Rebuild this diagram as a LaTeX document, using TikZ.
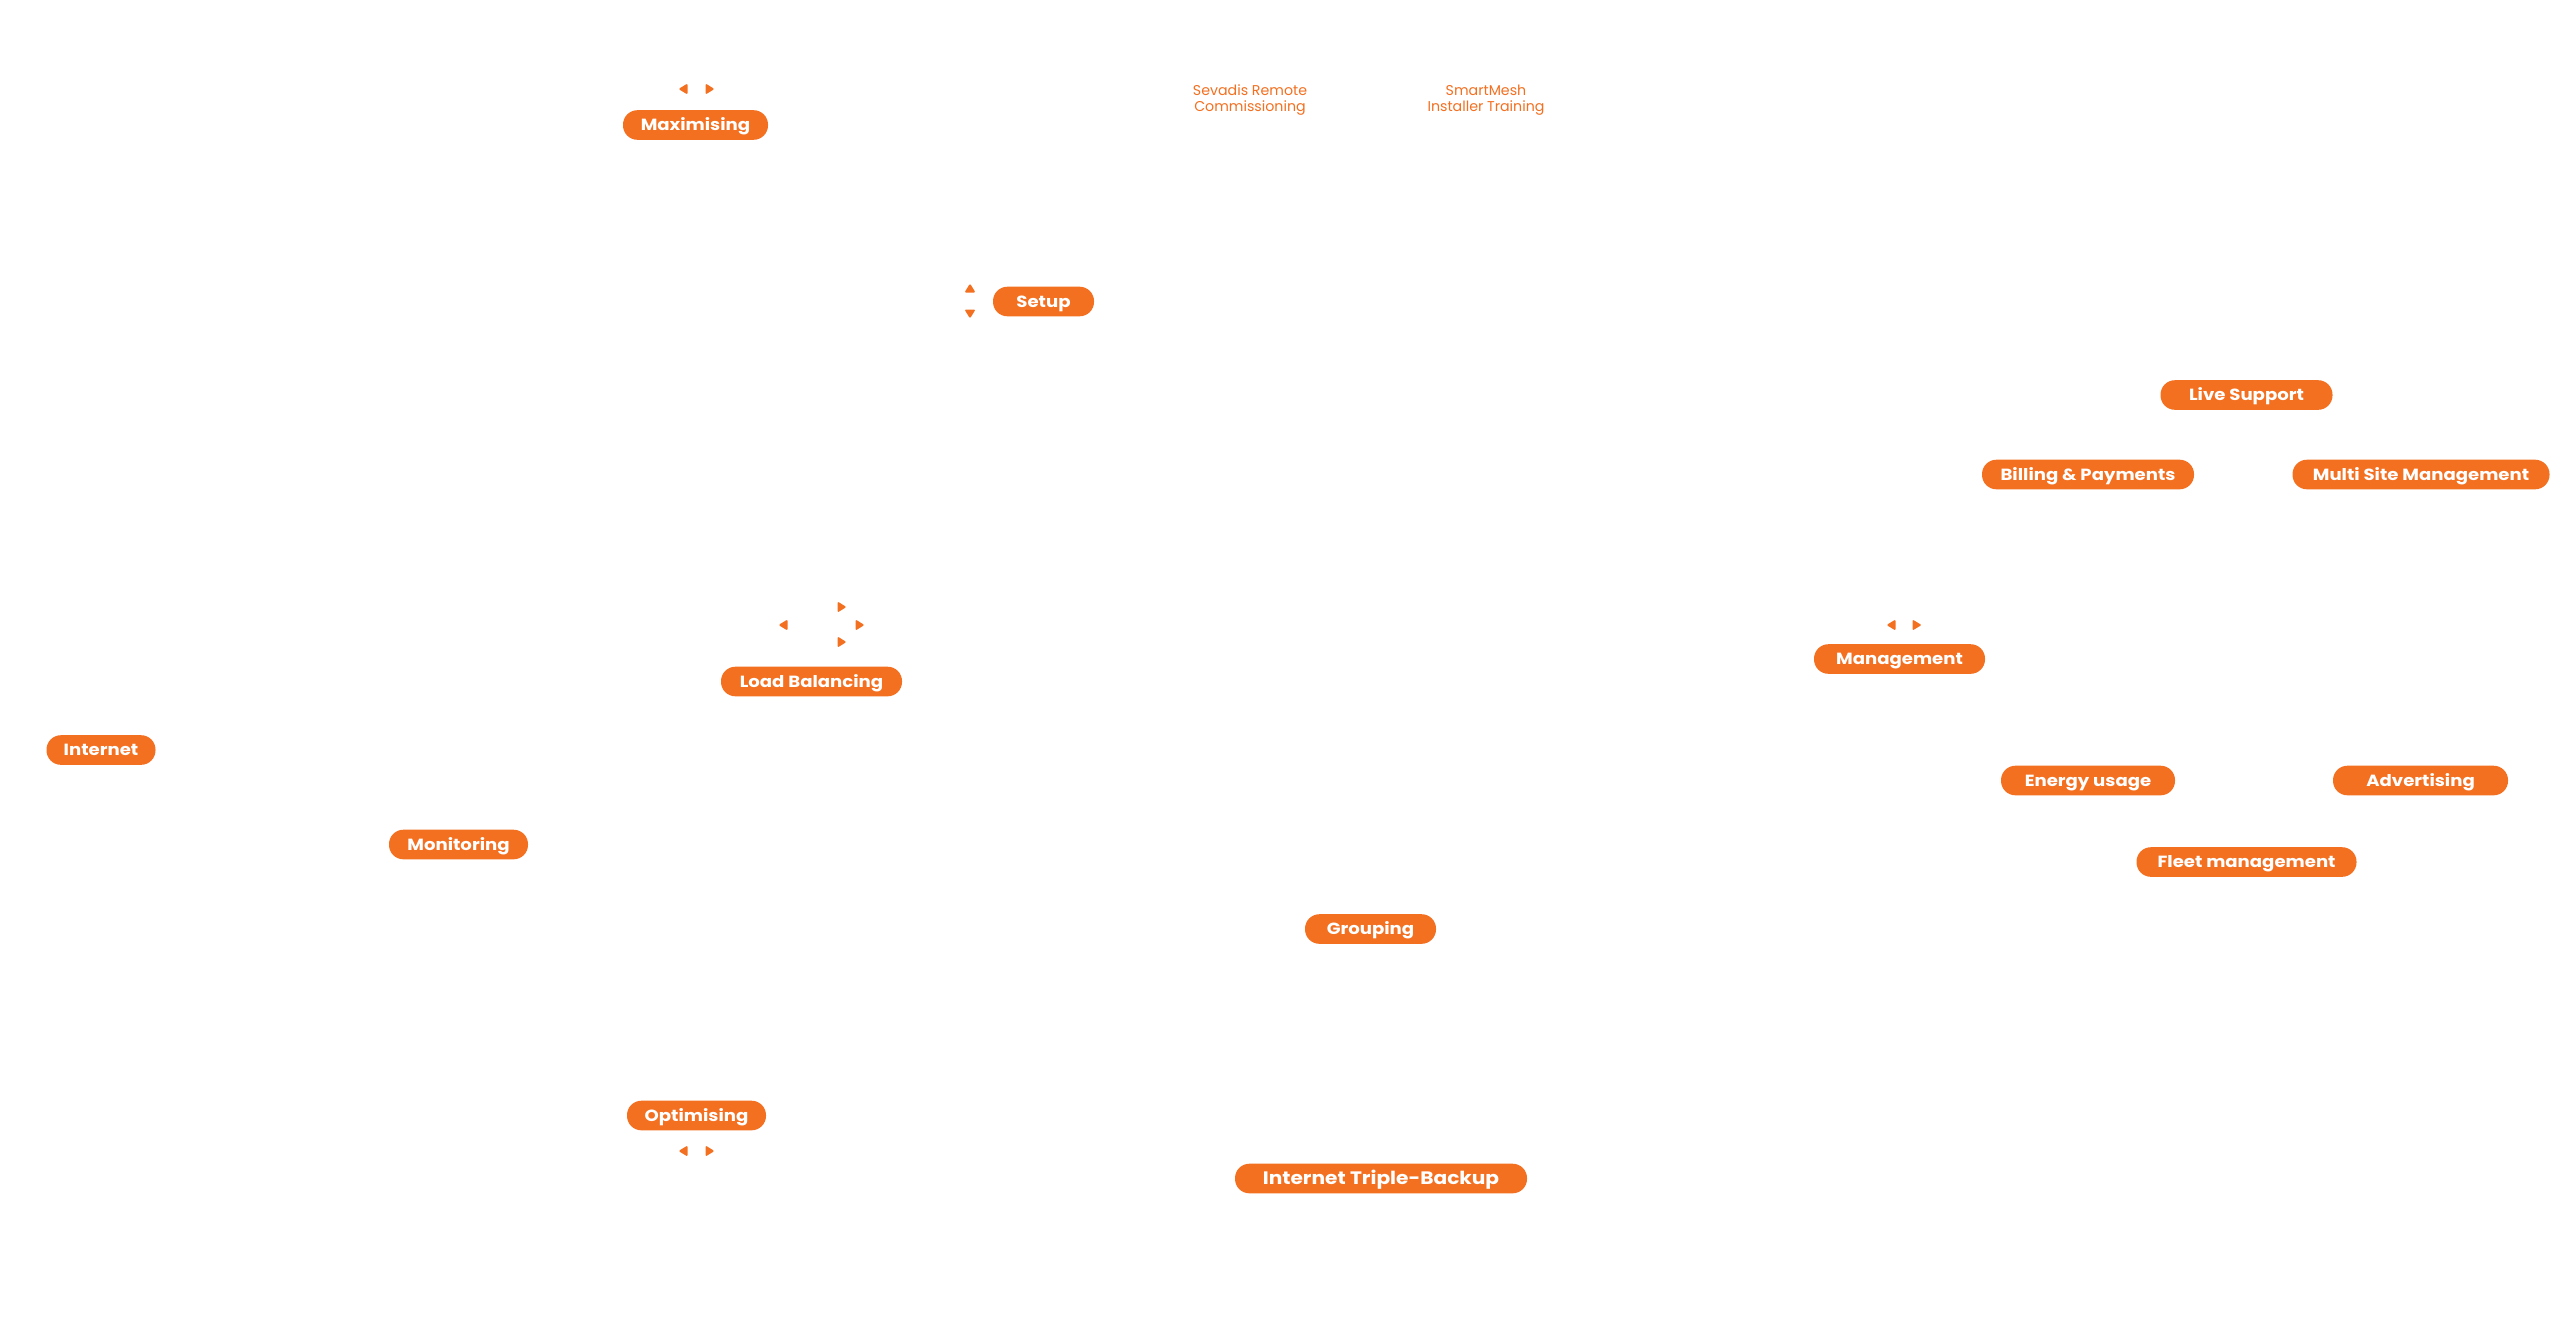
\documentclass[tikz,border=0pt]{standalone}
\usepackage{fontspec}
\setmainfont{Poppins}
\newfontfamily\pillfont[FakeStretch=1.12]{Poppins}
\usepackage{tikz}
\usetikzlibrary{arrows.meta, calc}
\definecolor{brandorange}{HTML}{F37021}
\tikzset{
  pill/.style={fill=brandorange, text=white, rounded corners=3.6mm, minimum height=7.4mm,
    inner sep=0pt, text height=8pt, text depth=0pt,
    font=\pillfont\bfseries\fontsize{11.5}{13}\selectfont},
  pillw/.style={minimum width=#1*0.25mm},
  smalltext/.style={text=brandorange, align=center, font=\fontsize{10.1}{11.4}\selectfont},
  arrowtip/.pic={\fill[brandorange, rounded corners=0.3mm] (-4.5,-5.5) -- (4.5,0) -- (-4.5,5.5) -- cycle;}
}

\begin{document}
\begin{tikzpicture}[x=0.25mm, y=-0.25mm]
        % 배경과 크기
        \useasboundingbox (0, 0) rectangle (2560, 1325);
        \fill[white] (0, 0) rectangle (2560, 1325);

        % 위쪽: 설치 관련
        \node[pill, pillw=145] (maximising) at (695.5, 125) {Maximising};
        \node[pill, pillw=101] (setup) at (1043.5, 301.5) {Setup};
        \node[smalltext] (sevadis) at (1250, 100) {Sevadis Remote\\Commissioning};
        \node[smalltext] (smartmesh) at (1486, 100) {SmartMesh\\Installer Training};

        % 왼쪽: 부하 분산과 모니터링
        \node[pill, pillw=181] (loadbal) at (811.5, 681.5) {Load Balancing};
        \node[pill, pillw=109] (internet) at (101, 750) {Internet};
        \node[pill, pillw=139] (monitoring) at (458.5, 844.5) {Monitoring};
        \node[pill, pillw=139] (optimising) at (696.5, 1115.5) {Optimising};

        % 가운데 아래
        \node[pill, pillw=131] (grouping) at (1370.5, 929) {Grouping};
        \node[pill, pillw=292, text height=9pt, font=\pillfont\bfseries\fontsize{12.8}{14}\selectfont]
          (backup) at (1381, 1178.5) {Internet Triple-Backup};

        % 오른쪽: 관리 기능
        \node[pill, pillw=171] (management) at (1899.5, 659) {Management};
        \node[pill, pillw=172] (livesupport) at (2246.5, 395) {Live Support};
        \node[pill, pillw=212] (billing) at (2088, 474.5) {Billing \& Payments};
        \node[pill, pillw=257] (multisite) at (2421, 474.5) {Multi Site Management};
        \node[pill, pillw=174] (energy) at (2088, 780.5) {Energy usage};
        \node[pill, pillw=175] (advertising) at (2420.5, 780.5) {Advertising};
        \node[pill, pillw=220] (fleet) at (2246.5, 862) {Fleet management};

        % 작은 화살촉들
        \pic[rotate=180] at (683, 89) {arrowtip};
        \pic at (710, 89) {arrowtip};
        \pic[rotate=90] at (970, 288) {arrowtip};
        \pic[rotate=-90] at (970, 314) {arrowtip};
        \pic[rotate=180] at (783, 625) {arrowtip};
        \pic at (860, 625) {arrowtip};
        \pic at (842, 607) {arrowtip};
        \pic at (842, 642) {arrowtip};
        \pic[rotate=180] at (1891, 625) {arrowtip};
        \pic at (1917, 625) {arrowtip};
        \pic[rotate=180] at (683, 1151) {arrowtip};
        \pic at (710, 1151) {arrowtip};
    \end{tikzpicture}
\end{document}
